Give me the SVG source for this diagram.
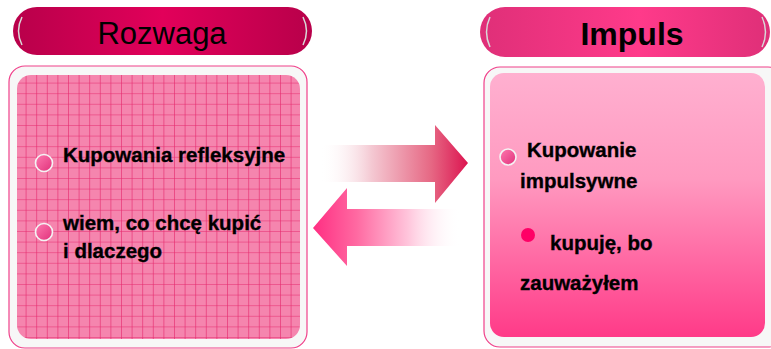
<svg xmlns="http://www.w3.org/2000/svg" width="771" height="349" viewBox="0 0 771 349">
<defs>
<style>
.t{font-family:"Liberation Sans",Arial,sans-serif;font-weight:bold;font-size:20.5px;fill:#000;stroke:#000;stroke-width:0.35}
.rim{fill:#f7f7f7;stroke:#f0408a;stroke-width:1.2}
.hl{fill:none;stroke:#d8d8d8;stroke-width:1.5}
.bul{fill:url(#bulG);stroke:#f4f4f4;stroke-width:1.6}
</style>
<linearGradient id="pillL" x1="0" y1="0" x2="1" y2="0">
<stop offset="0" stop-color="#b8004a"/><stop offset="0.5" stop-color="#e2005a"/><stop offset="1" stop-color="#b8004a"/>
</linearGradient>
<linearGradient id="pillR" x1="0" y1="0" x2="1" y2="0">
<stop offset="0" stop-color="#df2f78"/><stop offset="0.55" stop-color="#ff3a8a"/><stop offset="1" stop-color="#df2f78"/>
</linearGradient>
<linearGradient id="cardR" x1="0" y1="0" x2="0" y2="1">
<stop offset="0" stop-color="#ffb0d0"/><stop offset="0.4" stop-color="#ff9ac0"/><stop offset="1" stop-color="#ff3a88"/>
</linearGradient>
<linearGradient id="bulG" x1="0" y1="0" x2="1" y2="1">
<stop offset="0" stop-color="#ff7ab0"/><stop offset="1" stop-color="#e0307a"/>
</linearGradient>
<linearGradient id="arR" gradientUnits="userSpaceOnUse" x1="320" y1="0" x2="468" y2="0">
<stop offset="0" stop-color="#ffffff" stop-opacity="0"/><stop offset="0.35" stop-color="#f4c8d2"/><stop offset="0.75" stop-color="#e66884"/><stop offset="1" stop-color="#dc1450"/>
</linearGradient>
<linearGradient id="arL" gradientUnits="userSpaceOnUse" x1="313" y1="0" x2="460" y2="0">
<stop offset="0" stop-color="#ff2e82"/><stop offset="0.3" stop-color="#ff6aa2"/><stop offset="0.65" stop-color="#ffc6dc"/><stop offset="1" stop-color="#ffffff" stop-opacity="0"/>
</linearGradient>
<pattern id="grid" patternUnits="userSpaceOnUse" x="15" y="72" width="10.6" height="10.6">
<rect width="10.6" height="10.6" fill="#f585ae"/>
<path d="M0 0H10.6M0 0V10.6" stroke="#e5286c" stroke-width="1.2" fill="none"/>
</pattern>
</defs>

<g id="title-left">
<rect x="13" y="7" width="299" height="48" rx="24" fill="url(#pillL)"/>
<path class="hl" d="M22 17 Q15 31 22 45"/>
<path class="hl" d="M303 17 Q310 31 303 45"/>
<text x="162" y="44" text-anchor="middle" style="font-family:'Liberation Sans',Arial,sans-serif;font-size:31px;fill:#000">Rozwaga</text>
</g>

<g id="title-right">
<rect x="480" y="7" width="290" height="50" rx="25" fill="url(#pillR)"/>
<path class="hl" d="M490 17 Q483 32 490 47"/>
<path class="hl" d="M762 17 Q769 32 762 47"/>
<text x="632" y="45" text-anchor="middle" style="font-family:'Liberation Sans',Arial,sans-serif;font-weight:bold;font-size:32px;fill:#000">Impuls</text>
</g>

<g id="card-left">
<rect class="rim" x="9" y="66" width="298" height="282" rx="16"/>
<rect x="17" y="75" width="283" height="264" rx="14" fill="url(#grid)"/>
<circle class="bul" cx="44" cy="163" r="8.5"/>
<text class="t" x="63" y="162">Kupowania refleksyjne</text>
<circle class="bul" cx="44" cy="232" r="8.5"/>
<text class="t" x="63" y="230">wiem, co chcę kupić</text>
<text class="t" x="63" y="258">i dlaczego</text>
</g>

<g id="card-right">
<rect class="rim" x="484" y="67" width="300" height="280" rx="16"/>
<rect x="490" y="73" width="275" height="264" rx="14" fill="url(#cardR)"/>
<circle class="bul" cx="508" cy="157" r="8"/>
<text class="t" x="527" y="157">Kupowanie</text>
<text class="t" x="520" y="188">impulsywne</text>
<circle cx="528" cy="235" r="7" fill="#ff0066"/>
<text class="t" x="550" y="250">kupuję, bo</text>
<text class="t" x="520" y="290">zauważyłem</text>
</g>

<g id="connectors">
<path d="M320 145H435V125L468 163L435 203V182H320Z" fill="url(#arR)"/>
<path d="M313 228L347 188V209H460V246H347V266Z" fill="url(#arL)"/>
</g>
</svg>
